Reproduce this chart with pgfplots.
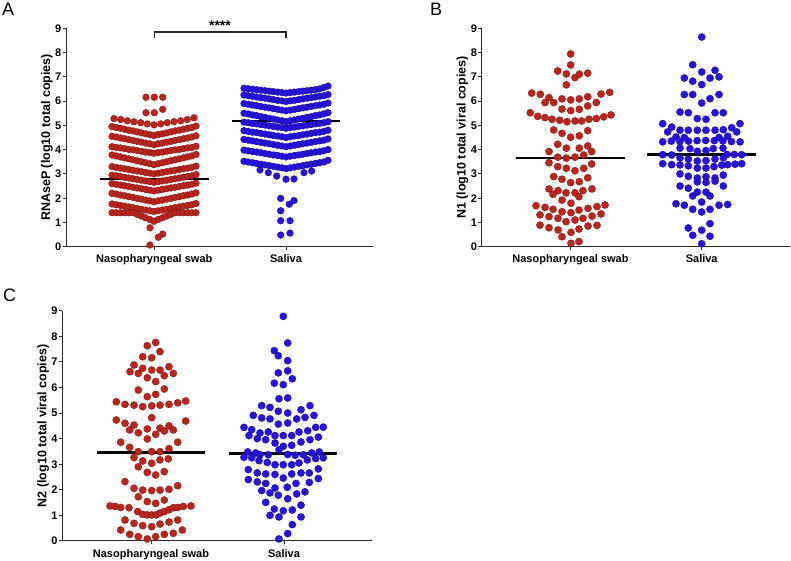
\documentclass[border=0pt]{standalone}
\usepackage{pgfplots}
\pgfplotsset{compat=1.18}
\usepackage{pgfplotstable}
\usepackage{fontspec}
\setmainfont{Liberation Sans}
\definecolor{rfill}{RGB}{185,38,30}
\definecolor{rdraw}{RGB}{125,20,14}
\definecolor{bfill}{RGB}{40,18,222}
\definecolor{bdraw}{RGB}{20,8,140}

\pgfplotstableread{
x r2 r3 r4 r5 r6 r7 r8 r9 r10 r11
112.0 4.95 4.55 4.12 3.78 3.30 2.95 2.60 2.20 1.76 1.40
116.2 4.91 4.52 4.09 3.74 3.27 2.92 2.57 2.17 1.73 1.40
120.4 4.88 4.48 4.07 3.70 3.24 2.89 2.54 2.13 1.70 1.40
124.6 4.84 4.45 4.04 3.66 3.21 2.86 2.51 2.10 1.67 1.40
128.8 4.80 4.41 4.01 3.62 3.18 2.83 2.48 2.06 1.64 1.40
133.0 4.77 4.38 3.99 3.58 3.15 2.80 2.45 2.03 1.61 1.40
137.2 4.73 4.34 3.96 3.54 3.12 2.77 2.42 1.99 1.57 1.33
141.4 4.69 4.31 3.93 3.50 3.09 2.74 2.39 1.96 1.54 1.26
145.6 4.65 4.27 3.90 3.46 3.06 2.71 2.36 1.92 1.51 1.19
149.8 4.62 4.24 3.88 3.42 3.03 2.68 2.33 1.89 1.48 1.12
154.0 4.58 4.20 3.85 3.38 3.00 2.65 2.30 1.85 1.45 1.05
158.2 4.62 4.24 3.88 3.42 3.03 2.68 2.33 1.89 1.48 1.12
162.4 4.65 4.27 3.90 3.46 3.06 2.71 2.36 1.92 1.51 1.19
166.6 4.69 4.31 3.93 3.50 3.09 2.74 2.39 1.96 1.54 1.26
170.8 4.73 4.34 3.96 3.54 3.12 2.77 2.42 1.99 1.57 1.33
175.0 4.77 4.38 3.99 3.58 3.15 2.80 2.45 2.03 1.61 1.40
179.2 4.80 4.41 4.01 3.62 3.18 2.83 2.48 2.06 1.64 1.40
183.4 4.84 4.45 4.04 3.66 3.21 2.86 2.51 2.10 1.67 1.40
187.6 4.88 4.48 4.07 3.70 3.24 2.89 2.54 2.13 1.70 1.40
191.8 4.91 4.52 4.09 3.74 3.27 2.92 2.57 2.17 1.73 1.40
196.0 4.97 4.57 4.14 3.80 3.32 2.97 2.62 2.22 1.78 1.40
}\redA

\pgfplotstableread{
x b1 b2 b3 b4 b5 b6 b7 b8 b9
244.0 6.53 6.25 5.90 5.50 5.13 4.78 4.42 3.98 3.52
248.2 6.51 6.22 5.87 5.47 5.11 4.75 4.39 3.95 3.49
252.4 6.49 6.20 5.84 5.43 5.08 4.72 4.36 3.92 3.46
256.6 6.47 6.17 5.81 5.40 5.06 4.70 4.33 3.90 3.43
260.8 6.45 6.14 5.78 5.36 5.03 4.67 4.30 3.87 3.40
265.0 6.43 6.12 5.75 5.33 5.01 4.64 4.27 3.84 3.37
269.2 6.41 6.09 5.72 5.29 4.98 4.61 4.24 3.81 3.34
273.4 6.39 6.06 5.69 5.26 4.96 4.58 4.21 3.78 3.31
277.6 6.37 6.03 5.66 5.22 4.93 4.56 4.18 3.76 3.28
281.8 6.35 6.01 5.63 5.19 4.91 4.53 4.15 3.73 3.25
286.0 6.33 5.98 5.60 5.15 4.88 4.50 4.12 3.70 3.22
290.2 6.35 6.01 5.63 5.19 4.91 4.53 4.15 3.73 3.25
294.4 6.37 6.03 5.66 5.22 4.93 4.56 4.18 3.76 3.28
298.6 6.39 6.06 5.69 5.26 4.96 4.58 4.21 3.78 3.31
302.8 6.41 6.09 5.72 5.29 4.98 4.61 4.24 3.81 3.34
307.0 6.43 6.12 5.75 5.33 5.01 4.64 4.27 3.84 3.37
311.2 6.45 6.14 5.78 5.36 5.03 4.67 4.30 3.87 3.40
315.4 6.47 6.17 5.81 5.40 5.06 4.70 4.33 3.90 3.43
319.6 6.50 6.20 5.84 5.43 5.08 4.72 4.36 3.92 3.46
323.8 6.56 6.22 5.87 5.47 5.11 4.75 4.39 3.95 3.49
328.0 6.62 6.27 5.92 5.52 5.15 4.80 4.44 4.00 3.56
}\blueA

\pgfplotsset{
  panel/.style={
    scale only axis,
    anchor=south west,
    axis x line=bottom, axis y line=left,
    axis line style={-, line width=1pt, black!85},
    ymin=0, ymax=9, ytick={0,...,9},
    tick align=outside,
    major tick length=3.5pt,
    tick style={line width=1pt, black!85},
    ticklabel style={font=\bfseries\fontsize{11}{12}\selectfont},
    yticklabel style={inner xsep=1pt},
    xticklabel style={yshift=-1pt},
    /pgf/number format/assume math mode=true,
    xticklabels={Nasopharyngeal swab, Saliva},
    ylabel style={font=\bfseries\fontsize{12.5}{14}\selectfont, yshift=-2pt},
    clip=false,
  },
  rA/.style={only marks, mark=*, mark size=3.35pt, mark options={fill=rfill, draw=rdraw, line width=0.4pt}},
  bA/.style={only marks, mark=*, mark size=3.35pt, mark options={fill=bfill, draw=bdraw, line width=0.4pt}},
  rB/.style={only marks, mark=*, mark size=3.6pt, mark options={fill=rfill, draw=rdraw, line width=0.35pt}},
  bB/.style={only marks, mark=*, mark size=3.6pt, mark options={fill=bfill, draw=bdraw, line width=0.35pt}},
  med/.style={black, line width=2.2pt, no marks},
}

\begin{document}
\begin{tikzpicture}
\path[use as bounding box] (0pt,0pt) rectangle (791pt,561pt);

% ---------------- Panel A ----------------
\begin{axis}[panel, at={(66pt,314.3pt)}, width=307.3pt, height=218.4pt,
  xmin=66, xmax=373.3, xtick={154.3,286},
  ylabel={RNAseP (log10 total copies)}]
\addplot[rA] coordinates {(114,5.28) (120.7,5.24) (127.3,5.19) (134,5.15) (140.7,5.11) (147.3,5.06) (154,5.02) (160.7,5.06) (167.3,5.11) (174,5.15) (180.7,5.19) (187.3,5.24) (194,5.31)
 (146,6.16) (154.3,6.16) (162.7,6.16) (146,5.52) (154.3,5.52) (162.7,5.66)
 (150,0.78) (162.7,0.52) (158.3,0.39) (150,0.07)};
\pgfplotsinvokeforeach{r2,r3,r4,r5,r6,r7,r8,r9,r10,r11}{
  \addplot[rA] table[x=x,y=#1]{\redA};
}
\pgfplotsinvokeforeach{b1,b2,b3,b4,b5,b6,b7,b8,b9}{
  \addplot[bA] table[x=x,y=#1]{\blueA};
}
\addplot[bA] coordinates {(260,3.16) (268.3,3.05) (276.7,2.91) (286,2.78) (294,2.79) (304,3.05) (311.7,3.12)
 (280.7,1.99) (294,1.90) (289.3,1.75) (280.7,1.48) (280.7,1.07) (290,1.07) (280.7,0.48) (290,0.56)};
\addplot[med] coordinates {(100,2.79) (209,2.79)};
\addplot[med] coordinates {(231.7,5.18) (340.3,5.18)};
\draw[line width=1.4pt, black!85] (axis cs:154.3,8.62) -- (axis cs:154.3,8.84) -- (axis cs:286,8.84) -- (axis cs:286,8.62);
\node[anchor=south, font=\bfseries\fontsize{14}{14}\selectfont, inner sep=0.5pt] at (axis cs:220,8.86) {****};
\end{axis}

% ---------------- Panel B ----------------
\begin{axis}[panel, at={(481.7pt,314.3pt)}, width=308.3pt, height=218.4pt,
  xmin=481.7, xmax=790, xtick={570.5,701.7},
  ylabel={N1 (log10 total viral copies)}]
\addplot[rB] coordinates {
 (570.7,7.94) (570.7,7.49)
 (557.7,7.24) (566.3,7.12) (575,6.97) (579.3,7.11) (587.7,7.15) (566.3,6.67)
 (531.7,6.33) (540.3,6.28) (549,6.14) (545,5.94) (553.7,5.94) (562,6.09) (570.7,6.05) (579.3,6.09) (587.7,6.18) (596.3,5.94) (601,6.29) (609.7,6.36)
 (562,5.67) (570.7,5.61) (579.3,5.66) (587.7,5.80)
 (530.3,5.52) (537.7,5.37) (545,5.32) (552,5.25) (559.7,5.21) (567,5.15) (575,5.18) (581.7,5.18) (589,5.25) (596.3,5.28) (603.7,5.35) (611,5.43)
 (553.7,4.81) (562,4.67) (570.7,4.51) (579.3,4.57) (587.7,4.78)
 (557.7,4.22) (566.3,4.06) (579.3,4.06) (587.7,4.15)
 (549,3.92) (591.7,3.92) (583.7,3.78)
 (557.7,3.69) (566.3,3.65) (575,3.69)
 (549,3.46) (557.7,3.30) (566.3,3.23) (575,3.13) (583.7,3.23) (591.7,3.41)
 (553.7,2.89) (562,2.78) (570.7,2.64) (579.3,2.68) (587.7,2.84)
 (549,2.38) (558,2.31) (553,2.16) (566,2.22) (575,2.22) (579,2.06) (583,2.31) (592,2.38) (562,1.92) (571,1.79)
 (536,1.69) (545,1.62) (553,1.54) (562,1.44) (571,1.40) (579,1.51) (588,1.58) (597,1.65) (605,1.72)
 (540,1.31) (549,1.24) (558,1.17) (566,1.03) (575,1.10) (583,1.17) (592,1.26) (601,1.35)
 (540,0.89) (549,0.78) (558,0.69) (562,0.41) (571,0.59) (579,0.73) (588,0.85) (597,0.88)
 (571,0.14) (579,0.21)};
\addplot[bB] coordinates {
 (701.7,8.64)
 (692.7,7.50) (701.7,7.20) (715,7.27) (684.3,6.95) (692.7,6.82) (710,6.95) (719,7.00) (701.7,6.68)
 (684.3,6.27) (692.7,6.27) (701.7,5.92) (710,6.10) (719,6.27)
 (680,5.55) (688.3,5.52) (697.3,5.28) (706,5.25) (715,5.52) (723.3,5.52)
 (662.7,5.07) (671.7,4.93) (740,5.07) (731.7,4.90)
 (667.7,4.73) (680,4.80) (688.3,4.80) (697.3,4.80) (706,4.80) (715,4.80) (723.3,4.82) (736.7,4.73)
 (676,4.52) (684.3,4.50) (719,4.50) (727.7,4.55)
 (662.7,4.32) (671.3,4.35) (679.9,4.33) (688.5,4.35) (697.1,4.37) (705.7,4.38) (714.3,4.37) (722.9,4.36) (731.5,4.33) (740.1,4.32)
 (680,4.06) (690,4.04) (697.3,3.93) (706,3.96) (713.3,4.04) (723,4.06)
 (662.7,3.79) (671.7,3.78) (727,3.80) (734.3,3.80) (741.7,3.79)
 (680,3.66) (688.3,3.61) (697.3,3.53) (706,3.55) (715,3.61) (723.3,3.66)
 (662.7,3.42) (671.7,3.38) (680,3.37) (688.3,3.33) (697.3,3.24) (706,3.24) (714,3.30) (721.7,3.36) (727.7,3.38) (735,3.40) (741.7,3.42)
 (680,3.00) (688.3,2.90) (697.3,2.83) (706,2.88) (715,2.83) (723.3,2.95)
 (680,2.50) (688.3,2.41) (697.3,2.67) (706,2.65) (715,2.70) (723.3,2.50)
 (692.7,2.09) (697.3,2.25) (706,2.25) (710,2.09)
 (676,1.77) (684.3,1.71) (692.7,1.54) (701.7,1.43) (701.7,1.84) (710,1.54) (719,1.71) (727.7,1.74)
 (710,0.95) (688.3,0.77) (701.7,0.68) (692.7,0.47) (710,0.43) (701.7,0.12)};
\addplot[med] coordinates {(516,3.65) (625,3.65)};
\addplot[med] coordinates {(647,3.80) (756,3.80)};
\end{axis}

% ---------------- Panel C ----------------
\begin{axis}[panel, at={(62.3pt,20pt)}, width=309.4pt, height=230.3pt,
  xmin=62.3, xmax=371.7, xtick={151,284},
  ylabel={N2 (log10 total viral copies)}]
\addplot[rB] coordinates {
 (155.7,7.76) (147.3,7.63)
 (142.7,7.20) (151.7,7.16) (160,7.40)
 (134,6.88) (130,6.62) (138.3,6.55) (142.7,6.75) (147.3,6.38) (151.7,6.68) (160,6.68) (164.3,6.46) (169,6.81) (173.3,6.55) (155.7,6.23)
 (138.3,5.90) (147.3,5.64) (155.7,5.73) (164.3,5.94)
 (116.3,5.44) (125,5.34) (134,5.31) (142.7,5.25) (151.7,5.28) (160,5.31) (169,5.34) (177.7,5.40) (185.7,5.47)
 (151.7,4.82)
 (116.3,4.73) (125,4.60) (129.7,4.34) (134,4.53) (138.3,4.23) (147.3,4.38) (155.7,4.17) (160,4.41) (164.3,4.30) (169,4.50) (173.3,4.34) (185.7,4.69)
 (147.3,3.99) (120.7,3.86) (129.7,3.66) (138.3,3.49) (151.7,3.49) (160,3.49) (169,3.61) (177.7,3.86)
 (134,3.26) (142.7,3.13) (151.7,3.04) (160,3.17) (168.3,3.21) (138.3,2.90) (147.3,2.68) (155.7,2.58) (164.3,2.71)
 (125,2.32) (134,2.06) (142.7,1.99) (151.7,1.97) (160,1.99) (169,2.02) (177.7,2.16) (138.3,1.73) (147.3,1.54) (155.7,1.47) (164.3,1.60)
 (110,1.37) (115,1.35) (120.7,1.31) (129,1.30) (137.7,1.15) (142.7,1.04) (147.3,1.02) (151.7,1.02) (156,1.02) (160,1.09) (164.3,1.15) (169,1.22) (173.3,1.30) (177.7,1.31) (183.3,1.35) (191,1.37)
 (125,0.82) (134,0.69) (142.7,0.60) (151.7,0.56) (160,0.66) (169,0.74) (177.7,0.82)
 (120.7,0.43) (129.7,0.26) (138.3,0.17) (147.3,0.08) (155.7,0.17) (164.3,0.26) (173.3,0.30) (182.3,0.43)};
\addplot[bB] coordinates {
 (283.3,8.78) (287.7,7.74)
 (274.3,7.44) (278.3,7.24) (287.7,7.05)
 (278.3,6.57) (287.7,6.65) (274.3,6.17) (283.3,6.11) (292.3,6.34)
 (279,5.56) (287.7,5.59)
 (261.7,5.29) (270,5.22) (278.3,5.07) (287.7,5.00) (301,5.13) (310,5.29)
 (253.3,4.91) (261.7,4.81) (270,4.77) (278.3,4.57) (287.7,4.61) (296.7,4.77) (305,4.83) (314,4.91)
 (244,4.44) (251.7,4.35) (260,4.22) (268.3,4.26) (299,4.26) (307.7,4.31) (315.7,4.44) (323.3,4.45)
 (249,4.12) (257.3,4.00) (265.7,3.96) (275,4.12) (283.3,4.12) (291.7,4.12) (301,3.87) (310,3.96) (318.3,4.06)
 (275,3.83) (283.3,3.70) (291.7,3.74) (279,3.57)
 (247.7,3.48) (255.7,3.44) (244,3.27) (251.7,3.25) (260,3.37) (268.3,3.37) (287.7,3.38) (295.3,3.35) (303.3,3.37) (311.7,3.44) (319.3,3.48) (315.7,3.22) (323.3,3.25) (307.3,3.17)
 (259,3.14) (267.3,3.07) (275,2.98) (283.3,2.98) (291.7,2.98) (299,3.05)
 (248.3,2.79) (257.3,2.66) (265.7,2.62) (275,2.60) (283.3,2.46) (291.7,2.62) (301,2.66) (309.3,2.66) (318.3,2.82)
 (248.3,2.40) (257.3,2.31) (265.7,2.25) (275,2.07) (287.3,2.10) (296,2.25) (309.3,2.29) (318.3,2.44)
 (261.7,1.97) (270,1.88) (278.3,1.79) (287.7,1.65) (296.7,1.84) (305,1.92)
 (265.7,1.51) (274.3,1.25) (283.3,1.18) (292.3,1.21) (301,1.40) (270,1.00) (279,0.94) (301,0.94)
 (292.3,0.64) (287.7,0.29) (279,0.08)};
\addplot[med] coordinates {(97,3.46) (205,3.46)};
\addplot[med] coordinates {(229,3.42) (337,3.42)};
\end{axis}

% panel letters
\node[anchor=north west, inner sep=0pt, font=\fontsize{18}{18}\selectfont] at (2pt,558pt) {A};
\node[anchor=north west, inner sep=0pt, font=\fontsize{18}{18}\selectfont] at (430pt,558pt) {B};
\node[anchor=north west, inner sep=0pt, font=\fontsize{18}{18}\selectfont] at (3pt,272pt) {C};
\end{tikzpicture}
\end{document}
